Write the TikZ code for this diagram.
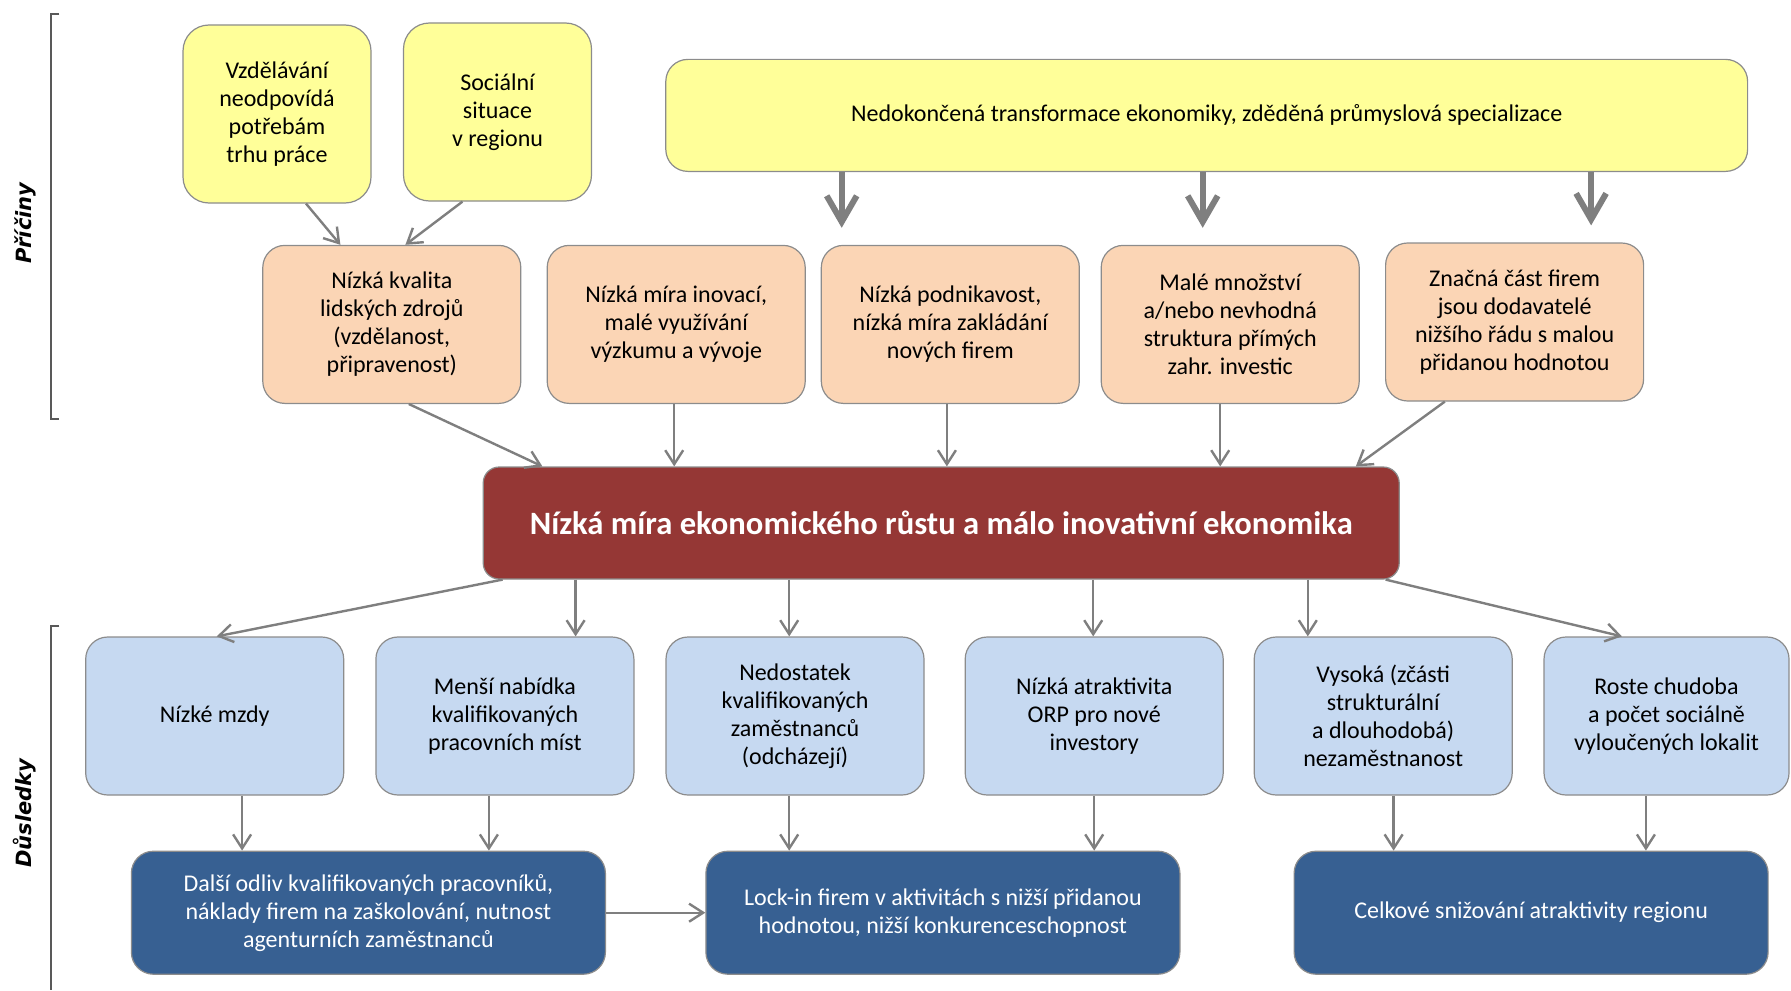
\documentclass[tikz,border=0pt]{standalone}
\usepackage{fontspec}
\setmainfont{Carlito}
\newfontfamily\sidefont{DejaVu Sans}
\usetikzlibrary{arrows.meta}

\definecolor{rootyellow}{HTML}{FFFF99}
\definecolor{causeorange}{HTML}{FBD5B5}
\definecolor{corered}{HTML}{953735}
\definecolor{effectblue}{HTML}{C6D9F1}
\definecolor{impactblue}{HTML}{376092}
\definecolor{boxline}{HTML}{8C8C8C}
\definecolor{arrowgray}{HTML}{7F7F7F}
\definecolor{bracketgray}{HTML}{595959}

\begin{document}
\begin{tikzpicture}[
    x=0.5pt, y=-0.5pt,
    every node/.style={align=center, inner sep=2pt, font=\fontsize{12}{14}\selectfont},
    box/.style={draw=boxline, line width=0.6pt, rounded corners=11pt},
    root/.style={box, fill=rootyellow, minimum width=94pt, minimum height=89pt, rounded corners=13pt},
    cause/.style={box, fill=causeorange, minimum width=129pt, minimum height=79pt},
    core/.style={box, fill=corered, text=white, minimum width=458pt, minimum height=56pt, rounded corners=8pt,
        font=\fontsize{16.3}{19}\selectfont\bfseries},
    effect/.style={box, fill=effectblue, minimum width=129pt, minimum height=79pt},
    impact/.style={box, fill=impactblue, text=white, minimum width=237pt, minimum height=61.5pt},
    side/.style={rotate=90, font=\sidefont\bfseries\itshape\fontsize{10.5}{12}\selectfont},
    bracket/.style={draw=bracketgray, line width=1pt},
    arr/.style={draw=arrowgray, line width=1.2pt, -{Straight Barb[length=7pt, width=9pt]}},
    fatarr/.style={draw=arrowgray, line width=3pt, -{Straight Barb[length=13pt, width=15pt]}, shorten >=8.5pt}
]
\useasboundingbox (0,0) rectangle (1791,990);

\node[side] (causes) at (25,223) {Příčiny};
\node[side] (effects) at (25,813) {Důsledky};
\draw[bracket] (59.4,13.7) -- (51.4,13.7) -- (51.4,419) -- (59.4,419);
\draw[bracket] (59.4,626) -- (51.4,626) -- (51.4,990);

\node[root] (y1) at (277,114) {Vzdělávání\\neodpovídá\\potřebám\\trhu práce};
\node[root] (y2) at (497.5,112) {Sociální\\situace\\v regionu};
\node[root, minimum width=540.9pt, minimum height=56pt, rounded corners=11pt] (y3) at (1206.7,115.4)
    {Nedokončená transformace ekonomiky, zděděná průmyslová specializace};

\node[cause] (o1) at (391.8,324.4) {Nízká kvalita\\lidských zdrojů\\(vzdělanost,\\připravenost)};
\node[cause] (o2) at (676.2,324.4) {Nízká míra inovací,\\malé využívání\\výzkumu a vývoje};
\node[cause] (o3) at (950.3,324.4) {Nízká podnikavost,\\nízká míra zakládání\\nových firem};
\node[cause] (o4) at (1230.2,324.4) {Malé množství\\a/nebo nevhodná\\struktura přímých\\zahr. investic};
\node[cause] (o5) at (1514.6,322) {Značná část firem\\jsou dodavatelé\\nižšího řádu s malou\\přidanou hodnotou};

\node[core] (c) at (941.2,523) {Nízká míra ekonomického růstu a málo inovativní ekonomika};

\node[effect] (b1) at (214.7,716) {Nízké mzdy};
\node[effect] (b2) at (504.9,716) {Menší nabídka\\kvalifikovaných\\pracovních míst};
\node[effect] (b3) at (795,716) {Nedostatek\\kvalifikovaných\\zaměstnanců\\(odcházejí)};
\node[effect] (b4) at (1094.2,716) {Nízká atraktivita\\ORP pro nové\\investory};
\node[effect] (b5) at (1383.2,716) {Vysoká (zčásti\\strukturální\\a dlouhodobá)\\nezaměstnanost};
\node[effect, minimum width=122.5pt] (b6) at (1666.5,716) {Roste chudoba\\a počet sociálně\\vyloučených lokalit};

\node[impact] (d1) at (368.4,912.7) {Další odliv kvalifikovaných pracovníků,\\náklady firem na zaškolování, nutnost\\agenturních zaměstnanců};
\node[impact] (d2) at (942.9,912.7) {Lock-in firem v aktivitách s nižší přidanou\\hodnotou, nižší konkurenceschopnost};
\node[impact] (d3) at (1531.1,912.7) {Celkové snižování atraktivity regionu};

\draw[arr] ([xshift=14.5pt]y1.south) -- ([xshift=-25.7pt]o1.north);
\draw[arr] ([xshift=-17.5pt]y2.south) -- ([xshift=6.8pt]o1.north);
\draw[fatarr] ([xshift=-182.5pt]y3.south) coordinate (t3) -- (t3 |- o3.north);
\draw[fatarr] ([xshift=-2pt]y3.south) coordinate (t4) -- (t4 |- o4.north);
\draw[fatarr] ([xshift=192.2pt]y3.south) coordinate (t5) -- (t5 |- o5.north);

\draw[arr] ([xshift=8.5pt]o1.south) -- ([xshift=-199.4pt]c.north);
\draw[arr] ([xshift=-1pt]o2.south) coordinate (s2) -- (s2 |- c.north);
\draw[arr] ([xshift=-1.7pt]o3.south) coordinate (s3) -- (s3 |- c.north);
\draw[arr] ([xshift=-5pt]o4.south) coordinate (s4) -- (s4 |- c.north);
\draw[arr] ([xshift=-34.9pt]o5.south) -- ([xshift=207.3pt]c.north);

\draw[arr] ([xshift=-219.3pt]c.south) -- ([xshift=1pt]b1.north);
\draw[arr] ([xshift=-182.8pt]c.south) coordinate (e2) -- (e2 |- b2.north);
\draw[arr] ([xshift=-76pt]c.south) coordinate (e3) -- (e3 |- b3.north);
\draw[arr] ([xshift=76pt]c.south) coordinate (e4) -- (e4 |- b4.north);
\draw[arr] ([xshift=183.3pt]c.south) coordinate (e5) -- (e5 |- b5.north);
\draw[arr] ([xshift=222.2pt]c.south) -- ([xshift=-22.3pt]b6.north);

\draw[arr] ([xshift=13.7pt]b1.south) coordinate (f1) -- (f1 |- d1.north);
\draw[arr] ([xshift=-8pt]b2.south) coordinate (f2) -- (f2 |- d1.north);
\draw[arr] ([xshift=-2.9pt]b3.south) coordinate (f3) -- (f3 |- d2.north);
\draw[arr] (b4.south) -- (b4.south |- d2.north);
\draw[arr] ([xshift=5.2pt]b5.south) coordinate (f5) -- (f5 |- d3.north);
\draw[arr] ([xshift=-10.3pt]b6.south) coordinate (f6) -- (f6 |- d3.north);
\draw[arr] (d1.east) -- (d2.west);
\end{tikzpicture}
\end{document}
